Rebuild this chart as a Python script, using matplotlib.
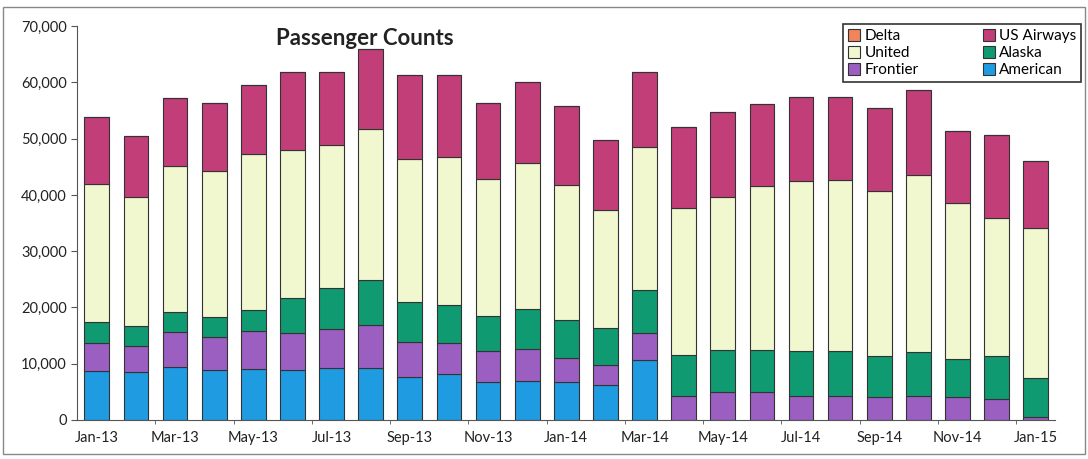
import matplotlib.pyplot as plt
import numpy as np
from matplotlib.patches import Rectangle

plt.rcParams['font.family'] = ['Lato', 'DejaVu Sans']

months = ['Jan-13', 'Feb-13', 'Mar-13', 'Apr-13', 'May-13', 'Jun-13', 'Jul-13', 'Aug-13',
          'Sep-13', 'Oct-13', 'Nov-13', 'Dec-13', 'Jan-14', 'Feb-14', 'Mar-14', 'Apr-14',
          'May-14', 'Jun-14', 'Jul-14', 'Aug-14', 'Sep-14', 'Oct-14', 'Nov-14', 'Dec-14',
          'Jan-15']

# segment heights (passengers)
american = [8750, 8500, 9500, 8800, 9100, 8900, 9200, 9200, 7700, 8100, 6800, 7000,
            6800, 6300, 10600, 0, 0, 0, 0, 0, 0, 0, 0, 0, 0]
frontier = [4950, 4600, 6100, 6000, 6800, 6500, 6900, 7600, 6200, 5500, 5500, 5700,
            4200, 3500, 4900, 4300, 4900, 5000, 4200, 4300, 4000, 4300, 4000, 3800, 600]
alaska = [3700, 3600, 3600, 3500, 3600, 6300, 7400, 8000, 7100, 6900, 6100, 7000,
          6700, 6500, 7600, 7300, 7500, 7500, 8100, 8000, 7400, 7700, 6800, 7500, 6800]
united = [24500, 22900, 25900, 25900, 27800, 26200, 25300, 27000, 25300, 26200, 24500, 26000,
          24000, 21000, 25500, 26100, 27300, 29100, 30100, 30300, 29300, 31500, 27800, 24600, 26800]
us_airways = [11900, 10800, 12200, 12100, 12200, 14000, 13000, 14200, 15000, 14600, 13400, 14400,
              14100, 12400, 13300, 14400, 15100, 14500, 15000, 14800, 14800, 15100, 12800, 14700, 11800]
delta = [0] * len(months)

series = [
    ('American', american, '#1f9be2'),
    ('Frontier', frontier, '#9b5fc2'),
    ('Alaska', alaska, '#0f9a72'),
    ('United', united, '#f1f7cf'),
    ('US Airways', us_airways, '#c23e79'),
    ('Delta', delta, '#f2845c'),
]

fig = plt.figure(figsize=(10.88, 4.59), dpi=100)
ax = fig.add_axes([0.071, 0.085, 0.899, 0.858])

x = np.arange(len(months))
bottom = np.zeros(len(months))
handles = {}
for name, vals, col in series:
    vals = np.array(vals, dtype=float)
    bars = ax.bar(x, vals, width=0.63, bottom=bottom, color=col,
                  edgecolor='#333333', linewidth=0.8, label=name)
    handles[name] = bars
    bottom += vals

ax.set_xlim(-0.5, len(months) - 0.5)
ax.set_ylim(0, 70000)
ax.set_yticks(np.arange(0, 70001, 10000))
ax.set_yticklabels([f'{v:,}' for v in range(0, 70001, 10000)], fontsize=10.5, color='#222222')
ax.set_xticks(x[::2])
ax.set_xticklabels(months[::2], fontsize=10.5, color='#222222')
ax.tick_params(axis='x', length=0, pad=8)
ax.set_xticks(x[1::2] + 0.5, minor=True)
ax.tick_params(axis='x', which='minor', length=3, color='#555555')
ax.tick_params(axis='y', length=4, color='#555555')
for s in ['top', 'right']:
    ax.spines[s].set_visible(False)
for s in ['left', 'bottom']:
    ax.spines[s].set_color('#555555')

fig.text(0.335, 0.917, 'Passenger Counts', fontsize=16, fontweight='bold',
         ha='center', va='center', color='#222222')

order = ['Delta', 'United', 'Frontier', 'US Airways', 'Alaska', 'American']
leg = fig.legend([handles[n] for n in order], order, ncol=2, loc='upper right',
                 bbox_to_anchor=(0.998, 0.957), fontsize=11, frameon=True, fancybox=False,
                 edgecolor='black', handlelength=0.8, handleheight=0.8, handletextpad=0.3,
                 columnspacing=4.2, labelspacing=0.2, borderpad=0.3, borderaxespad=0.3)
leg.get_frame().set_linewidth(1.2)

fig.patches.append(Rectangle((0.003, 0.01), 0.994, 0.975, transform=fig.transFigure,
                             fill=False, edgecolor='#888888', linewidth=1))

fig.savefig('out.png', dpi=100)
